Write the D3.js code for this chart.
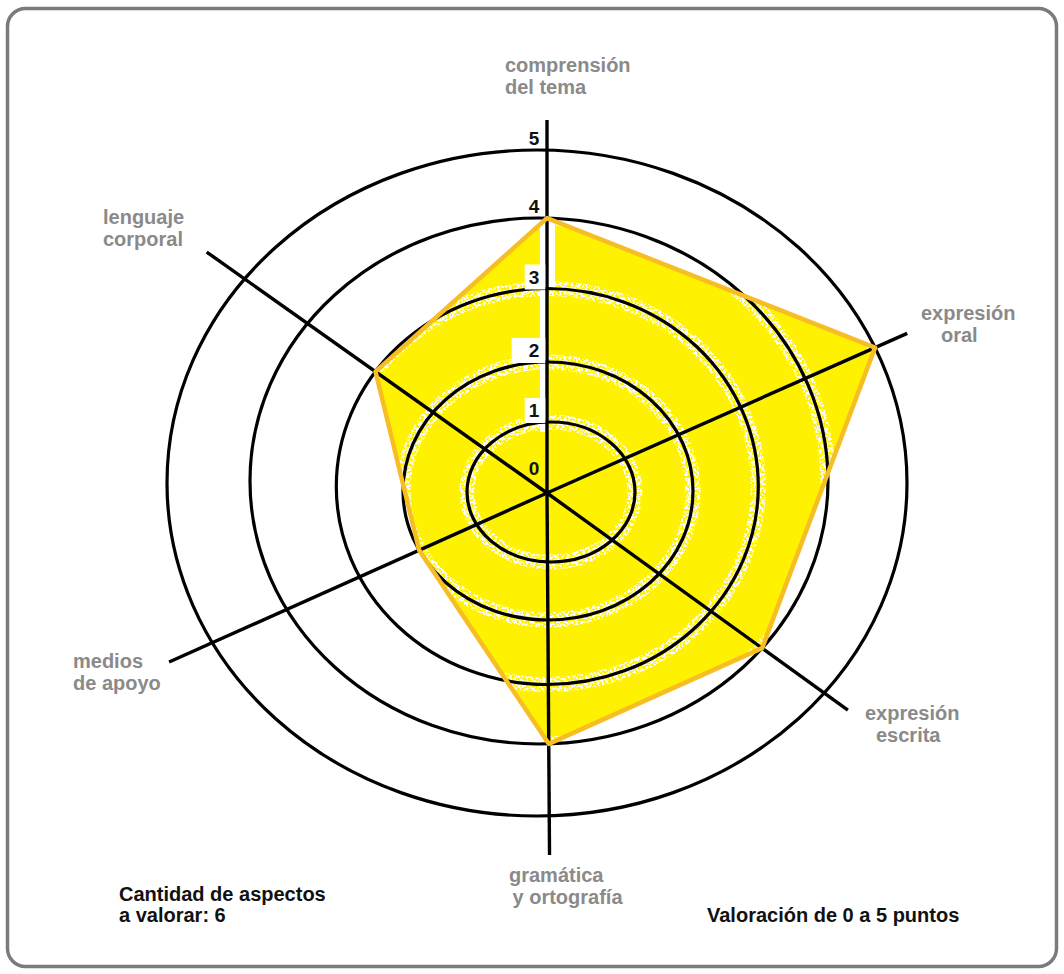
<!DOCTYPE html>
<html lang="es">
<head>
<meta charset="utf-8">
<title>Valoración de aspectos</title>
<script src="https://cdn.jsdelivr.net/npm/d3@7"></script>
<style>
  html, body { margin: 0; padding: 0; background: #fff; }
  svg { display: block; }
  text { font-family: "Liberation Sans", Arial, Helvetica, sans-serif; font-weight: bold; }
</style>
</head>
<body>
<svg id="chart" width="1064" height="974"></svg>
<script>
// Aspectos evaluados (en orden horario desde arriba)
const aspectos = [
  ["comprensión", "del tema"],
  ["expresión", "oral"],
  ["expresión", "escrita"],
  ["gramática", "y ortografía"],
  ["medios", "de apoyo"],
  ["lenguaje", "corporal"]
];
// Puntaje obtenido en cada aspecto
const puntajes = [4, 5, 4, 4, 2, 3];
// Escala de valoración
const niveles = [0, 1, 2, 3, 4, 5];

// ---- layout ----
const W = 1064, H = 974;
const origin = { x: 547, y: 493 };
// axis direction (degrees clockwise from 12 o'clock) and drawn length in px
const axisAngle = [0, 66.1, 125.8, 179.6, 245.9, 305.3];
const axisLen = [373, 394, 371, 362, 414, 417];
// label anchor (first line) and per-line indent
const labelPos = [
  { x: 505, y: 72, dx: [0, 0] },
  { x: 921, y: 320, dx: [0, 20] },
  { x: 865, y: 720, dx: [0, 11] },
  { x: 509, y: 882, dx: [0, 3.5] },
  { x: 73, y: 668, dx: [0, 0] },
  { x: 103, y: 224, dx: [0, 0] }
];
const lineH = 21.5;

// the rings are slightly irregular ellipses: radius and centre per level
const rx = d3.scaleLinear().domain(niveles).range([0, 84, 145, 211, 289, 370]);
const ry = d3.scaleLinear().domain(niveles).range([0, 70, 129, 198, 263, 333]);
const cx = d3.scaleLinear().domain(niveles).range([547, 551, 548, 547.3, 539, 537]);
const cy = d3.scaleLinear().domain(niveles).range([493, 492, 491, 486.5, 481, 483]);

const dir = a => {
  const r = a * Math.PI / 180;
  return { x: Math.sin(r), y: -Math.cos(r) };
};

// point where an axis meets the ring of a given level
function pointAt(i, v) {
  if (v <= 0) return [origin.x, origin.y];
  const d = dir(axisAngle[i]);
  const a = rx(v), b = ry(v);
  const ox = origin.x - cx(v), oy = origin.y - cy(v);
  const A = d.x * d.x / (a * a) + d.y * d.y / (b * b);
  const B = 2 * (ox * d.x / (a * a) + oy * d.y / (b * b));
  const C = ox * ox / (a * a) + oy * oy / (b * b) - 1;
  const t = (-B + Math.sqrt(B * B - 4 * A * C)) / (2 * A);
  return [origin.x + t * d.x, origin.y + t * d.y];
}

const svg = d3.select("#chart");

// speckled halo along the rings
const defs = svg.append("defs");
const f = defs.append("filter").attr("id", "speckle")
  .attr("x", "-5%").attr("y", "-5%").attr("width", "110%").attr("height", "110%");
f.append("feTurbulence").attr("type", "fractalNoise").attr("baseFrequency", 0.42)
  .attr("numOctaves", 3).attr("seed", 7).attr("result", "noise");
f.append("feColorMatrix").attr("in", "noise").attr("type", "matrix")
  .attr("values", "0 0 0 0 1  0 0 0 0 1  0 0 0 0 1  8 0 0 0 -3.6").attr("result", "mask");
f.append("feComposite").attr("in", "mask").attr("in2", "SourceGraphic").attr("operator", "in");

// frame
svg.append("rect")
  .attr("x", 7.5).attr("y", 8.5).attr("width", W - 15).attr("height", H - 16)
  .attr("rx", 18).attr("ry", 18)
  .attr("fill", "#fff").attr("stroke", "#7b7b7b").attr("stroke-width", 3.5);

// score polygon fill
const pts = puntajes.map((v, i) => pointAt(i, v));
const poly = d3.line().curve(d3.curveLinearClosed);
svg.append("path").attr("d", poly(pts)).attr("fill", "#fff200").attr("stroke", "none");

const rings = niveles.filter(v => v > 0);

// halos
svg.append("g").attr("filter", "url(#speckle)")
  .selectAll("ellipse").data(rings).join("ellipse")
  .attr("cx", v => cx(v)).attr("cy", v => cy(v))
  .attr("rx", v => rx(v)).attr("ry", v => ry(v))
  .attr("fill", "none").attr("stroke", "#fff").attr("stroke-width", 15);

// white gaps beside the vertical axis
const topY = v => cy(v) - ry(v);
svg.append("rect").attr("x", origin.x - 7).attr("width", 6)
  .attr("y", topY(4) + 4).attr("height", topY(1) + 10 - (topY(4) + 4)).attr("fill", "#fff");
svg.append("rect").attr("x", origin.x + 1).attr("width", 7)
  .attr("y", topY(4) + 3).attr("height", topY(3) - topY(4) - 3).attr("fill", "#fff");

// axes
svg.append("g").selectAll("line").data(axisAngle).join("line")
  .attr("x1", origin.x).attr("y1", origin.y)
  .attr("x2", (a, i) => origin.x + dir(a).x * axisLen[i])
  .attr("y2", (a, i) => origin.y + dir(a).y * axisLen[i])
  .attr("stroke", "#000").attr("stroke-width", 3.4).attr("stroke-linecap", "butt");

// rings
svg.append("g").selectAll("ellipse").data(rings).join("ellipse")
  .attr("cx", v => cx(v)).attr("cy", v => cy(v))
  .attr("rx", v => rx(v)).attr("ry", v => ry(v))
  .attr("fill", "none").attr("stroke", "#000").attr("stroke-width", 3.2);

// score polygon outline
svg.append("path").attr("d", poly(pts))
  .attr("fill", "none").attr("stroke", "#f6bd25").attr("stroke-width", 4.5)
  .attr("stroke-linejoin", "round");

// scale numbers, with a white patch behind those inside the polygon
const tickY = v => v === 0 ? origin.y - 18 : topY(v) - 5;
const tg = svg.append("g");
niveles.forEach(v => {
  const t = tg.append("text")
    .attr("x", origin.x - 13).attr("y", tickY(v))
    .attr("text-anchor", "middle").attr("font-size", 19).attr("fill", "#111")
    .text(v);
  if (v >= 1 && v <= 3) {
    const bb = t.node().getBBox();
    const left = bb.x - (v === 2 ? 17 : 4);
    tg.insert("rect", "text")
      .attr("x", left).attr("y", bb.y - 2)
      .attr("width", origin.x - 1.7 - left).attr("height", bb.height + 4)
      .attr("fill", "#fff");
  }
});

// aspect labels
svg.append("g").selectAll("text").data(aspectos).join("text")
  .attr("font-size", 20).attr("fill", "#8a8a8a")
  .each(function (lines, i) {
    const p = labelPos[i];
    d3.select(this).selectAll("tspan").data(lines).join("tspan")
      .attr("x", (d, k) => p.x + p.dx[k])
      .attr("y", (d, k) => p.y + k * lineH)
      .text(d => d);
  });

// notes
const notes = svg.append("g").attr("font-size", 20).attr("fill", "#111");
notes.append("text").attr("x", 119).attr("y", 901).text("Cantidad de aspectos");
notes.append("text").attr("x", 119).attr("y", 922).text("a valorar: " + aspectos.length);
notes.append("text").attr("x", 707).attr("y", 922)
  .text("Valoración de " + d3.min(niveles) + " a " + d3.max(niveles) + " puntos");
</script>
</body>
</html>
